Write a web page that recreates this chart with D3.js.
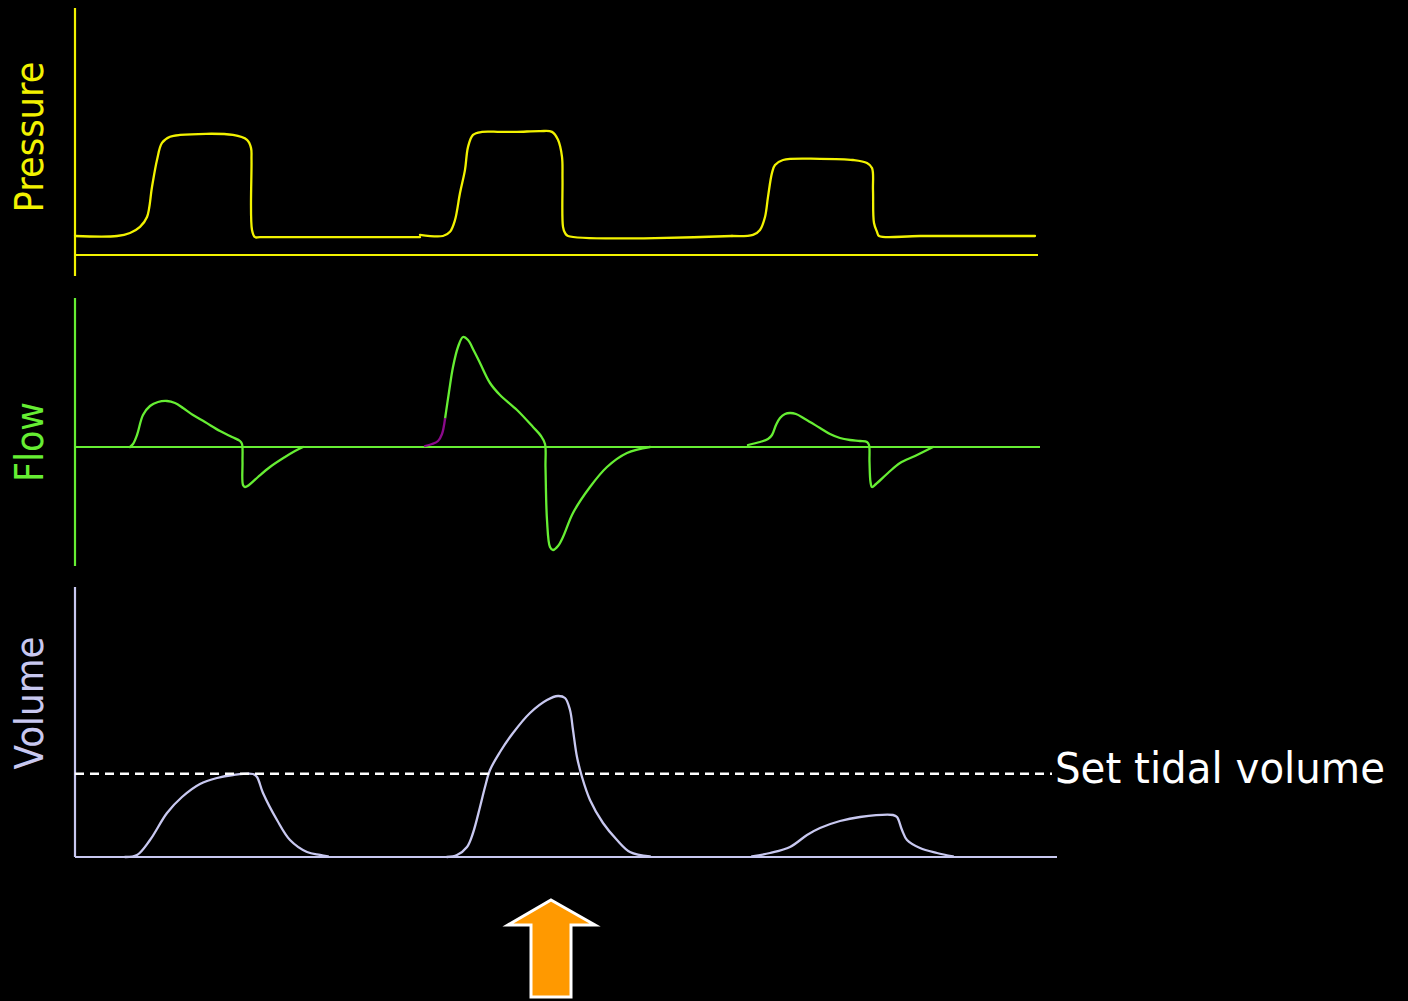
<!DOCTYPE html>
<html>
<head>
<meta charset="utf-8">
<script src="https://cdn.jsdelivr.net/npm/d3@7"></script>
<style>
  html, body { margin: 0; padding: 0; background: #000; }
  svg { display: block; }
</style>
</head>
<body>
<div id="chart"></div>
<script>
// time is in 10 ms ticks from the left axis, each breath is [t, value]
const pressureBreaths = [
  [[0,5],[42,5],[55,5.8],[65,7.4],[72,10],[77,17.9],[82,25],[87,29.5],[95,31.1],[105,31.6],[158,31.6],[172,30.3],[176,28.2],[176.5,25],[177,6.6],[180,4.7],[185,4.7],[345,4.7]],
  [[345,5.3],[368,5],[375,6.1],[380,9.2],[385,16.3],[390,22.4],[393,28.4],[398,31.6],[407,32.4],[425,32.4],[442,32.4],[465,32.6],[477,32.4],[483,30.3],[487,25.8],[487.5,20],[488,7.4],[490,5.8],[493,5],[657,5]],
  [[657,5],[678,5.3],[685,6.6],[690,10],[693,15.3],[697,21.6],[700,23.7],[708,25],[745,25.3],[778,25],[792,24.2],[797,22.9],[798,17.1],[799,8.4],[802,6.1],[804,5],[845,5],[960,5]]
];

const flowBreaths = [
  [[55,0],[58,3],[62,12],[68,32],[75,41],[83,45],[92,46],[100,44],[108,39],[118,32],[130,25],[145,16],[157,10],[165,6],[167,3],[167.5,-15],[168,-38],[170,-40],[174,-38],[183,-30],[195,-20],[210,-10],[220,-4],[228,0]],
  [[370,28],[374,55],[378,80],[383,100],[388,110],[393,107],[399,96],[405,84],[415,64],[425,52],[442,37],[458,20],[466,11],[470,3],[470.5,-20],[472,-73],[475,-100],[478,-103],[483,-99],[488,-90],[498,-66],[515,-40],[532,-20],[552,-6],[575,0]],
  [[673,2],[685,5],[693,8],[697,12],[701,22],[705,29],[710,33],[715,34],[721,33],[730,28],[745,19],[755,13],[765,9],[775,7],[785,6],[792,5],[794,2],[794.5,-15],[795.5,-35],[797,-40],[801,-37],[813,-26],[825,-16],[840,-9],[858,0]]
];
// patient triggered start of breath 2
const flowTrigger = [[350,1],[357,3],[363,6],[367,13],[370,28]];

const volumeBreaths = [
  [[50,0],[62,12],[75,102],[92,264],[107,360],[125,438],[142,474],[158,492],[178,498],[182,480],[188,384],[202,222],[215,102],[232,30],[245,12],[253,3]],
  [[372,0],[382,12],[392,60],[398,144],[405,300],[410,420],[415,522],[425,630],[438,744],[455,864],[472,942],[483,966],[490,954],[495,882],[498,762],[502,600],[507,480],[515,342],[528,204],[542,102],[555,30],[575,3]],
  [[677,3],[695,24],[715,60],[732,132],[745,174],[765,216],[785,240],[818,252],[822,240],[827,162],[832,102],[845,54],[862,24],[878,3]]
];

const setTidalVolume = 500;
const arrowTime = 476;

const labels = ["Pressure", "Flow", "Volume"];

const W = 1408, H = 1001;

const svg = d3.select("#chart")
  .append("svg")
    .attr("width", W)
    .attr("height", H)
    .style("background", "#000");

const x = d3.scaleLinear().domain([0, 1000]).range([75, 1075]);

const yP = d3.scaleLinear().domain([0, 65]).range([255, 8]);
const yF = d3.scaleLinear().domain([-119, 149]).range([566, 298]);
const yV = d3.scaleLinear().domain([0, 1620]).range([857, 587]);

const yellow = "#f2f200", green = "#66ee33", lilac = "#c8c8f0";

const curve = d3.curveCatmullRom.alpha(0.5);

function trace(yScale, color, data) {
  const line = d3.line()
    .x(d => x(d[0]))
    .y(d => yScale(d[1]))
    .curve(curve);
  svg.append("path")
    .datum(data)
    .attr("d", line)
    .attr("fill", "none")
    .attr("stroke", color)
    .attr("stroke-width", 2.3)
    .attr("stroke-linejoin", "round")
    .attr("stroke-linecap", "round");
}

// straight axis lines
function hline(yScale, v, t0, t1, color, w) {
  return svg.append("line")
    .attr("x1", x(t0)).attr("x2", x(t1))
    .attr("y1", yScale(v)).attr("y2", yScale(v))
    .attr("stroke", color).attr("stroke-width", w || 2.2);
}
function vline(yScale, v0, v1, color) {
  svg.append("line")
    .attr("x1", x(0)).attr("x2", x(0))
    .attr("y1", yScale(v0)).attr("y2", yScale(v1))
    .attr("stroke", color).attr("stroke-width", 2.2);
}

// Pressure panel
vline(yP, -5.5, 65, yellow);
hline(yP, 0, 0, 963, yellow);
pressureBreaths.forEach(b => trace(yP, yellow, b));

// Flow panel
vline(yF, -119, 149, green);
hline(yF, 0, 0, 965, green);
flowBreaths.forEach(b => trace(yF, green, b));
trace(yF, "#8b0a8b", flowTrigger);

// Volume panel
vline(yV, 0, 1620, lilac);
hline(yV, 0, 0, 982, lilac);
volumeBreaths.forEach(b => trace(yV, lilac, b));

hline(yV, setTidalVolume, 0, 977, "#fff", 2.5)
  .attr("stroke-dasharray", "9,6");

svg.append("text")
  .attr("x", x(980))
  .attr("y", yV(setTidalVolume) + 9)
  .attr("fill", "#fff")
  .attr("textLength", 330)
  .attr("lengthAdjust", "spacingAndGlyphs")
  .style("font-family", "'DejaVu Sans', sans-serif")
  .style("font-size", "42px")
  .text("Set tidal volume");

// Rotated panel labels
const labelSpots = [
  {text: labels[0], color: yellow, cy: 137, len: 151},
  {text: labels[1], color: green, cy: 442, len: 80},
  {text: labels[2], color: lilac, cy: 703, len: 133}
];
labelSpots.forEach(l => {
  svg.append("text")
    .attr("transform", `translate(43, ${l.cy}) rotate(-90)`)
    .attr("text-anchor", "middle")
    .attr("fill", l.color)
    .attr("textLength", l.len)
    .attr("lengthAdjust", "spacingAndGlyphs")
    .style("font-family", "'DejaVu Sans', sans-serif")
    .style("font-size", "39px")
    .text(l.text);
});

// Orange arrow under breath 2
const ax = x(arrowTime), tipY = 900;
const arrowPts = [
  [ax, tipY], [ax + 44, tipY + 25], [ax + 20, tipY + 25], [ax + 20, tipY + 97],
  [ax - 20, tipY + 97], [ax - 20, tipY + 25], [ax - 43, tipY + 25]
];
svg.append("polygon")
  .attr("points", arrowPts.map(p => p.join(",")).join(" "))
  .attr("fill", "#ff9900")
  .attr("stroke", "#fff")
  .attr("stroke-width", 3)
  .attr("stroke-linejoin", "miter");
</script>
</body>
</html>
